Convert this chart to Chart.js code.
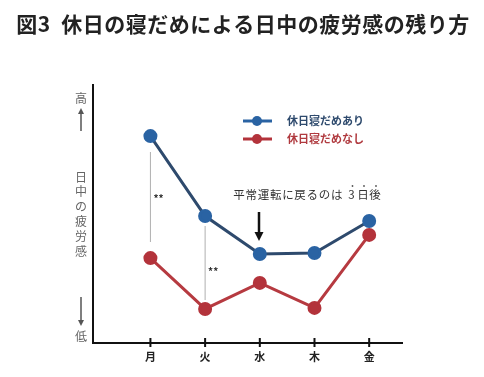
<!DOCTYPE html>
<html>
<head>
<meta charset="utf-8">
<script src="https://cdn.jsdelivr.net/npm/chart.js@4/dist/chart.umd.min.js"></script>
<style>
  html, body { margin: 0; padding: 0; background: #fff; }
</style>
</head>
<body>
<canvas id="chart" width="484" height="377"></canvas>
<script>
// data (fatigue level, 0 = low, 100 = high)
var days = ["月", "火", "水", "木", "金"];
var dayPos = [1, 2, 3, 4, 5];
var withCatchup = [80.2, 49.2, 34.5, 34.9, 47.3];
var withoutCatchup = [32.9, 13.2, 23.3, 13.6, 41.9];
var seriesNames = ["休日寝だめあり", "休日寝だめなし"];

var FONT = '"Noto Sans CJK JP", "Noto Sans", sans-serif';
var BLUE_LINE = "#2e4a6d";
var BLUE_DOT = "#2a63a3";
var RED_LINE = "#b63a40";
var RED_DOT = "#b3333b";

function toPoints(values) {
  return values.map(function (v, i) {
    return { x: dayPos[i], y: v };
  });
}

function drawArrow(ctx, x, yFrom, yTo, color, width, headW, headL) {
  var dir = yTo > yFrom ? 1 : -1;
  ctx.save();
  ctx.strokeStyle = color;
  ctx.fillStyle = color;
  ctx.lineWidth = width;
  ctx.beginPath();
  ctx.moveTo(x, yFrom);
  ctx.lineTo(x, yTo - dir * headL);
  ctx.stroke();
  ctx.beginPath();
  ctx.moveTo(x, yTo);
  ctx.lineTo(x - headW, yTo - dir * headL);
  ctx.lineTo(x + headW, yTo - dir * headL);
  ctx.closePath();
  ctx.fill();
  ctx.restore();
}

var decorations = {
  id: "decorations",
  beforeDatasetsDraw: function (chart) {
    var ctx = chart.ctx;
    var xs = chart.scales.x;
    var ys = chart.scales.y;
    ctx.save();
    // significance brackets
    ctx.strokeStyle = "#b0b0b0";
    ctx.lineWidth = 1;
    ctx.beginPath();
    ctx.moveTo(xs.getPixelForValue(1), 152);
    ctx.lineTo(xs.getPixelForValue(1), 242);
    ctx.moveTo(xs.getPixelForValue(2), 226);
    ctx.lineTo(xs.getPixelForValue(2), 300);
    ctx.stroke();
    ctx.fillStyle = "#333";
    ctx.font = "bold 10px " + FONT;
    ctx.textAlign = "left";
    ctx.textBaseline = "middle";
    ctx.fillText("**", xs.getPixelForValue(1) + 3, 198);
    ctx.fillText("**", xs.getPixelForValue(2) + 3, 271);

    // x tick marks crossing the axis
    ctx.strokeStyle = "#111";
    ctx.lineWidth = 2;
    ctx.beginPath();
    dayPos.forEach(function (p) {
      var px = xs.getPixelForValue(p);
      ctx.moveTo(px, ys.bottom - 5);
      ctx.lineTo(px, ys.bottom + 4);
    });
    ctx.stroke();
    ctx.restore();
  },
  afterDraw: function (chart) {
    var ctx = chart.ctx;
    ctx.save();

    // title
    ctx.fillStyle = "#222";
    ctx.font = "bold 21px " + FONT;
    ctx.textAlign = "center";
    ctx.textBaseline = "middle";
    ctx.letterSpacing = "0.5px";
    ctx.fillText("図3  休日の寝だめによる日中の疲労感の残り方", 243, 24);
    ctx.letterSpacing = "0px";

    // left axis labels
    ctx.fillStyle = "#666";
    ctx.font = "12px " + FONT;
    ctx.fillText("高", 81, 98);
    ctx.fillText("低", 81, 336);
    var vLabel = "日中の疲労感";
    for (var i = 0; i < vLabel.length; i++) {
      ctx.fillText(vLabel[i], 81, 177 + i * 14.8);
    }
    drawArrow(ctx, 81, 131, 108, "#555", 1.5, 3, 6);
    drawArrow(ctx, 81, 297, 326, "#555", 1.5, 3, 6);

    // legend
    var legend = [
      { name: seriesNames[0], line: BLUE_LINE, dot: BLUE_DOT, text: "#2e4a6d", y: 121 },
      { name: seriesNames[1], line: RED_LINE, dot: RED_DOT, text: "#b03a3f", y: 139 }
    ];
    legend.forEach(function (l) {
      ctx.strokeStyle = l.dot;
      ctx.lineWidth = 3;
      ctx.beginPath();
      ctx.moveTo(243, l.y);
      ctx.lineTo(272, l.y);
      ctx.stroke();
      ctx.fillStyle = l.dot;
      ctx.beginPath();
      ctx.arc(257, l.y, 5, 0, Math.PI * 2);
      ctx.fill();
      ctx.fillStyle = l.text;
      ctx.font = "bold 11px " + FONT;
      ctx.textAlign = "left";
      ctx.fillText(l.name, 287, l.y);
    });

    // annotation, emphasis dots over "3日後"
    var prefix = "平常運転に戻るのは";
    ctx.font = "11.5px " + FONT;
    ctx.textAlign = "center";
    ctx.fillStyle = "#333";
    for (var k = 0; k < prefix.length; k++) {
      ctx.fillText(prefix[k], 233 + 12.2 * (k + 0.5), 195);
    }
    var tail = ["3", "日", "後"];
    var tailX = [351.5, 363, 375];
    for (var t = 0; t < tail.length; t++) {
      ctx.fillStyle = "#333";
      ctx.fillText(tail[t], tailX[t], 195);
      ctx.fillStyle = "#555";
      ctx.beginPath();
      ctx.arc(tailX[t] + 1, 186, 0.9, 0, Math.PI * 2);
      ctx.fill();
    }
    drawArrow(ctx, 259, 212, 241, "#111", 2.5, 4.5, 9);

    ctx.restore();
  }
};

new Chart(document.getElementById("chart"), {
  type: "line",
  data: {
    datasets: [
      {
        label: seriesNames[0],
        data: toPoints(withCatchup),
        borderColor: BLUE_LINE,
        backgroundColor: BLUE_DOT,
        pointBackgroundColor: BLUE_DOT,
        pointBorderColor: BLUE_DOT,
        borderWidth: 3,
        pointRadius: 5.5,
        tension: 0
      },
      {
        label: seriesNames[1],
        data: toPoints(withoutCatchup),
        borderColor: RED_LINE,
        backgroundColor: RED_DOT,
        pointBackgroundColor: RED_DOT,
        pointBorderColor: RED_DOT,
        borderWidth: 3,
        pointRadius: 5.5,
        tension: 0
      }
    ]
  },
  options: {
    responsive: false,
    animation: false,
    layout: { padding: { top: 85, right: 82, left: 0, bottom: 0 } },
    plugins: {
      legend: { display: false },
      tooltip: { enabled: false }
    },
    scales: {
      x: {
        type: "linear",
        min: -0.05,
        max: 5.6,
        afterBuildTicks: function (scale) {
          scale.ticks = dayPos.map(function (p) { return { value: p }; });
        },
        afterFit: function (scale) { scale.height = 34; },
        grid: { display: true, drawOnChartArea: false, drawTicks: false },
        border: { display: true, color: "#111", width: 2 },
        ticks: {
          padding: 7,
          color: "#222",
          font: { family: FONT, size: 11, weight: "bold" },
          callback: function (v) { return days[v - 1]; }
        }
      },
      y: {
        min: 0,
        max: 100,
        afterFit: function (scale) { scale.width = 93; },
        grid: { display: true, drawOnChartArea: false, drawTicks: false },
        border: { display: true, color: "#111", width: 2 },
        ticks: { display: false }
      }
    }
  },
  plugins: [decorations]
});
</script>
</body>
</html>
